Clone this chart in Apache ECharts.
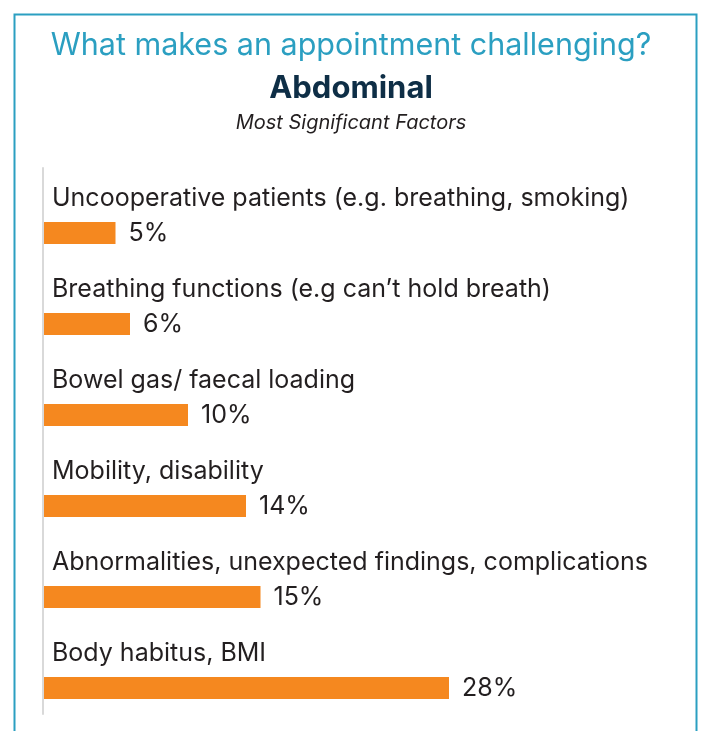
<!DOCTYPE html>
<html><head><meta charset="utf-8">
<script src="https://cdn.jsdelivr.net/npm/echarts@6/dist/echarts.min.js"></script>
<style>html,body{margin:0;padding:0;background:#fff}#c{width:702px;height:731px}</style>
</head><body><div id="c"></div>
<script>
const categories = [
  'Uncooperative patients (e.g. breathing, smoking)',
  'Breathing functions (e.g can\u2019t hold breath)',
  'Bowel gas/ faecal loading',
  'Mobility, disability',
  'Abnormalities, unexpected findings, complications',
  'Body habitus, BMI'
];
const values = [5, 6, 10, 14, 15, 28];
const titleText = 'What makes an appointment challenging?';
const subTitleText = 'Abdominal';
const captionText = 'Most Significant Factors';

const FONT = 'Inter';
const chart = echarts.init(document.getElementById('c'), null, {renderer:'canvas'});
chart.setOption({
  backgroundColor: '#ffffff',
  animation: false,
  graphic: [{
    type: 'rect', left: 12, top: 12, silent: true,
    shape: {width: 682, height: 760},
    style: {fill: 'none', stroke: '#2b9fc1', lineWidth: 2}
  }],
  title: [
    {text: titleText, left: 'center', top: 25, textStyle: {fontFamily: FONT, fontSize: 30.5, fontWeight: 'normal', color: '#2b9fc1'}},
    {text: subTitleText, left: 'center', top: 68, textStyle: {fontFamily: FONT, fontSize: 31, fontWeight: 'bold', color: '#0e2e46'}},
    {text: captionText, left: 'center', top: 108, textStyle: {fontFamily: FONT, fontSize: 20, fontWeight: 'normal', fontStyle: 'italic', color: '#231f20'}}
  ],
  grid: {left: 43, top: 168, bottom: 17, width: 580},
  xAxis: {type: 'value', min: 0, max: 40, show: false},
  yAxis: {
    type: 'category', data: categories, inverse: true,
    axisLine: {show: true, lineStyle: {color: '#d9d9d9', width: 2}},
    axisTick: {show: false},
    axisLabel: {
      inside: true, margin: 9, verticalAlign: 'middle', lineHeight: 31,
      formatter: v => v + '\n ',
      fontFamily: FONT, fontSize: 25, color: '#231f20'
    },
    splitLine: {show: false}
  },
  series: [{
    type: 'custom',
    data: values.map((v, i) => [v, categories[i]]),
    encode: {x: 0, y: 1},
    renderItem: function (params, api) {
      const val = api.value(0);
      const idx = api.value(1);
      const p0 = api.coord([0, idx]);
      const p1 = api.coord([val, idx]);
      const band = api.size([0, 1])[1];
      const barH = 22;
      const cy = p0[1] + band * 0.214;
      return {
        type: 'group',
        children: [
          {type: 'rect', shape: {x: p0[0] + 1, y: cy - barH / 2, width: p1[0] - p0[0] - 1, height: barH}, style: {fill: '#f5881f'}},
          {type: 'text', style: {text: val + '%', x: p1[0] + 13, y: cy + 1, verticalAlign: 'middle', align: 'left', font: '25px ' + FONT, fill: '#231f20'}}
        ]
      };
    }
  }]
});
</script></body></html>
